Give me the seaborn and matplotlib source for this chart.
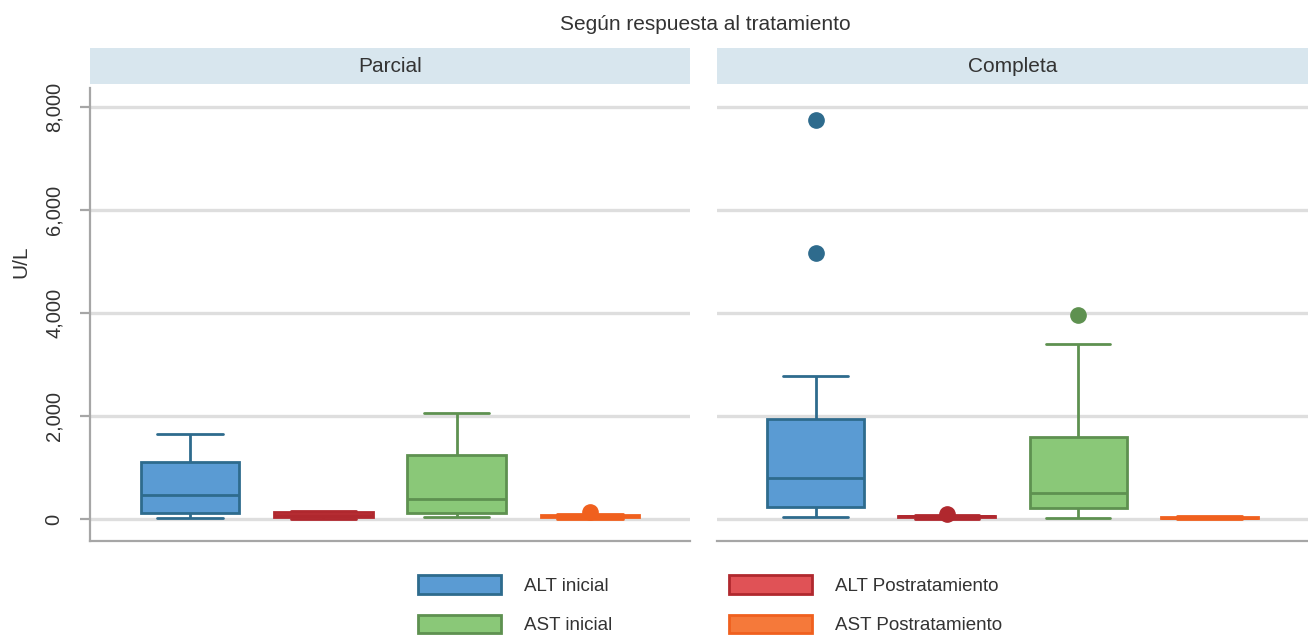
import matplotlib
matplotlib.use("Agg")
import matplotlib.pyplot as plt
from matplotlib.patches import Rectangle, Patch
from matplotlib.ticker import FuncFormatter
import seaborn as sns
import pandas as pd

# Observaciones (U/L), por grupo de respuesta
variables = ["ALT inicial", "ALT Postratamiento", "AST inicial", "AST Postratamiento"]
panels = ["Parcial", "Completa"]

parcial_alt_ini = [19, 123, 472, 1107, 1645]
parcial_alt_post = [5, 30, 80, 140, 165]
parcial_ast_ini = [32, 123, 395, 1243, 2052]
parcial_ast_post = [0, 20, 35, 45, 55, 65, 75, 97, 142]

completa_alt_ini = [32, 120, 180, 227, 400, 600, 790, 1100, 1500, 1935, 2783, 5159, 7748]
completa_alt_post = [5, 20, 35, 42, 50, 55, 60, 85, 105]
completa_ast_ini = [13, 120, 214, 350, 498, 900, 1599, 3405, 3961]
completa_ast_post = [0, 10, 25, 40, 50]

fills = ["#5a9bd3", "#e05256", "#8ac878", "#f5793a"]
edges = ["#2e6b8d", "#b0282e", "#5e9150", "#f0601e"]

rows = []
for panel, series in zip(panels, [
        [parcial_alt_ini, parcial_alt_post, parcial_ast_ini, parcial_ast_post],
        [completa_alt_ini, completa_alt_post, completa_ast_ini, completa_ast_post]]):
    for var, vals in zip(variables, series):
        for v in vals:
            rows.append({"panel": panel, "variable": var, "valor": v})
df = pd.DataFrame(rows)

sns.set_theme(style="white")
plt.rcParams["font.family"] = ["Liberation Sans", "DejaVu Sans"]
txt = "#333333"
axis_gray = "#a6a6a6"

fig = plt.figure(figsize=(13.08, 6.35), dpi=100)
ax_l = fig.add_axes([90 / 1308, 94 / 635, 600 / 1308, 457 / 635])
ax_r = fig.add_axes([717 / 1308, 94 / 635, 591 / 1308, 457 / 635])

for ax, panel in zip([ax_l, ax_r], panels):
    sub = df[df["panel"] == panel]
    for var, fc, ec in zip(variables, fills, edges):
        part = sub[sub["variable"] == var]
        sns.boxplot(data=part, x="variable", y="valor", order=variables, ax=ax,
                    color=fc, linecolor=ec, linewidth=2, width=0.74, saturation=1,
                    capwidths=0.49,
                    flierprops=dict(marker="o", markerfacecolor=ec, markeredgecolor=ec,
                                    markersize=11))
    ax.set_xlim(-0.75, 3.75)
    ax.set_ylim(-427, 8447)
    ax.set_yticks([0, 2000, 4000, 6000, 8000])
    ax.yaxis.grid(True, color="#dedede", lw=2.4)
    ax.set_axisbelow(True)
    ax.set_xlabel("")
    ax.set_xticks([])
    for s in ["top", "right"]:
        ax.spines[s].set_visible(False)
    ax.spines["bottom"].set_color(axis_gray)
    ax.spines["bottom"].set_linewidth(1.6)
    ax.spines["left"].set_color(axis_gray)
    ax.spines["left"].set_linewidth(1.6)
    ax.spines["left"].set_bounds(-427, 8370)
    # tira del panel
    ax.add_patch(Rectangle((0, 1), 1, 36 / 457, transform=ax.transAxes,
                           clip_on=False, facecolor="#d8e6ee", edgecolor="none"))
    ax.text(0.5, 1 + 18 / 457, panel, transform=ax.transAxes, ha="center",
            va="center", fontsize=15, color=txt)

ax_l.yaxis.set_major_formatter(FuncFormatter(lambda v, p: f"{int(v):,}"))
ax_l.tick_params(axis="y", left=True, length=7, width=1.6, color=axis_gray,
                 labelsize=14.5, labelcolor=txt, pad=12, labelrotation=90)
for lab in ax_l.get_yticklabels():
    lab.set_va("center")
ax_l.set_ylabel("U/L", fontsize=15, color=txt)
ax_l.yaxis.set_label_coords(-0.1, 0.61)

ax_r.spines["left"].set_visible(False)
ax_r.set_ylabel("")
ax_r.tick_params(axis="y", left=False, labelleft=False)

fig.text(705 / 1308, 1 - 24 / 635, "Según respuesta al tratamiento", ha="center",
         va="center", fontsize=15, color=txt)

handles = [Patch(facecolor=fc, edgecolor=ec, linewidth=2) for fc, ec in zip(fills, edges)]
# orden por columnas: ALT inicial, AST inicial | ALT Post, AST Post
order_idx = [0, 2, 1, 3]
fig.legend([handles[i] for i in order_idx], [variables[i] for i in order_idx],
           loc="upper left", bbox_to_anchor=(418 / 1308, 1 - 575 / 635), ncol=2,
           frameon=False, fontsize=13.5, handlelength=4.43, handleheight=1.17,
           handletextpad=1.23, columnspacing=6.2, labelspacing=1.06, borderpad=0,
           borderaxespad=0, labelcolor=txt)

fig.savefig("out.png", dpi=100)
